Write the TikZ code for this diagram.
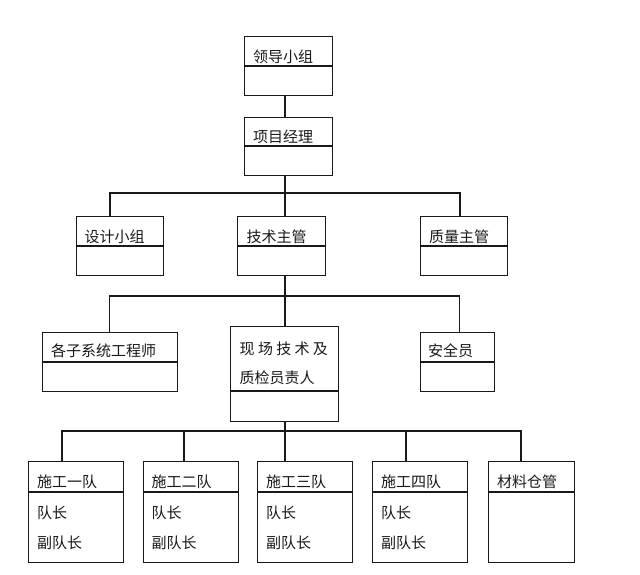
\documentclass[tikz,border=0pt]{standalone}
\usepackage{fontspec}
\newfontfamily\cjk{Noto Sans CJK SC}
\begin{document}
\begin{tikzpicture}[x=1pt,y=-1pt,
  box/.style={draw=black!90,line width=1.1pt,rectangle,inner sep=0pt,anchor=north west},
  lbl/.style={anchor=base west,inner sep=0pt,font=\cjk\fontsize{15}{15}\selectfont,text=black!90},
  wire/.style={draw=black!90,line width=1.1pt}]
\useasboundingbox[fill=white] (0,0) rectangle (640,574);
% boxes
\node[box,minimum width=88pt,minimum height=59pt] (ldxz) at (244,36) {};
\node[box,minimum width=88pt,minimum height=58pt] (xmjl) at (244,117) {};
\node[box,minimum width=87pt,minimum height=59pt] (sjxz) at (76,216) {};
\node[box,minimum width=88pt,minimum height=59pt] (jszg) at (237,216) {};
\node[box,minimum width=87pt,minimum height=59pt] (zlzg) at (420,216) {};
\node[box,minimum width=135pt,minimum height=59pt] (gzxt) at (42,332) {};
\node[box,minimum width=108pt,minimum height=95pt] (xcjs) at (230,326) {};
\node[box,minimum width=74pt,minimum height=59pt] (aqy) at (420,332) {};
\node[box,minimum width=95pt,minimum height=101pt] (sg1) at (28,461) {};
\node[box,minimum width=95pt,minimum height=101pt] (sg2) at (142.5,461) {};
\node[box,minimum width=95pt,minimum height=101pt] (sg3) at (257,461) {};
\node[box,minimum width=95pt,minimum height=101pt] (sg4) at (372,461) {};
\node[box,minimum width=86pt,minimum height=101pt] (clcg) at (488,461) {};
% dividers
\foreach \n/\d in {ldxz/30,xmjl/29,sjxz/30,jszg/30,zlzg/30,gzxt/30,xcjs/65,aqy/30,sg1/31,sg2/31,sg3/31,sg4/31,clcg/31}
  \draw[wire] ([yshift=-\d pt]\n.north west) -- ([yshift=-\d pt]\n.north east);
% labels
\node[lbl] (t1) at (253,62.4) {领导小组};
\node[lbl] (t2) at (253,142.4) {项目经理};
\node[lbl] (t3) at (84.5,242) {设计小组};
\node[lbl] (t4) at (246.5,242) {技术主管};
\node[lbl] (t5) at (429,242) {质量主管};
\node[lbl] (t6) at (51,356) {各子系统工程师};
\node[lbl] (t7) at (239.5,354.5) {现\hspace{3.3pt}场\hspace{3.3pt}技\hspace{3.3pt}术\hspace{3.3pt}及};
\node[lbl] (t8) at (239.5,383.7) {质检员责人};
\node[lbl] (t9) at (428,356) {安全员};
\foreach \n/\x/\t in {a/37/施工一队,b/151.5/施工二队,c/266/施工三队,d/381/施工四队}{
  \node[lbl] (h\n) at (\x,487.4) {\t};
  \node[lbl] (l\n) at (\x,518.7) {队长};
  \node[lbl] (f\n) at (\x,548.2) {副队长};
}
\node[lbl] (he) at (497,487.4) {材料仓管};
% connectors
\draw[wire] (ldxz.south -| 285,0) -- (xmjl.north -| 285,0);
\coordinate (b1) at (285,193);
\coordinate (b1l) at (110,193);
\coordinate (b1r) at (460,193);
\draw[wire] (xmjl.south -| b1) -- (jszg.north -| b1);
\draw[wire] (sjxz.north -| b1l) -- (b1l) -- (b1r) -- (zlzg.north -| b1r);
\coordinate (b2) at (285,296);
\coordinate (b2l) at (109.5,296);
\coordinate (b2r) at (459.5,296);
\draw[wire] (jszg.south -| b2) -- (xcjs.north -| b2);
\draw[wire] (gzxt.north -| b2l) -- (b2l) -- (b2r) -- (aqy.north -| b2r);
\coordinate (b3) at (285,431);
\coordinate (b3a) at (62,431);
\coordinate (b3b) at (184,431);
\coordinate (b3d) at (406,431);
\coordinate (b3e) at (521,431);
\draw[wire] (xcjs.south -| b3) -- (sg3.north -| b3);
\draw[wire] (sg1.north -| b3a) -- (b3a) -- (b3e) -- (clcg.north -| b3e);
\draw[wire] (b3b) -- (sg2.north -| b3b);
\draw[wire] (b3d) -- (sg4.north -| b3d);
\end{tikzpicture}
\end{document}
